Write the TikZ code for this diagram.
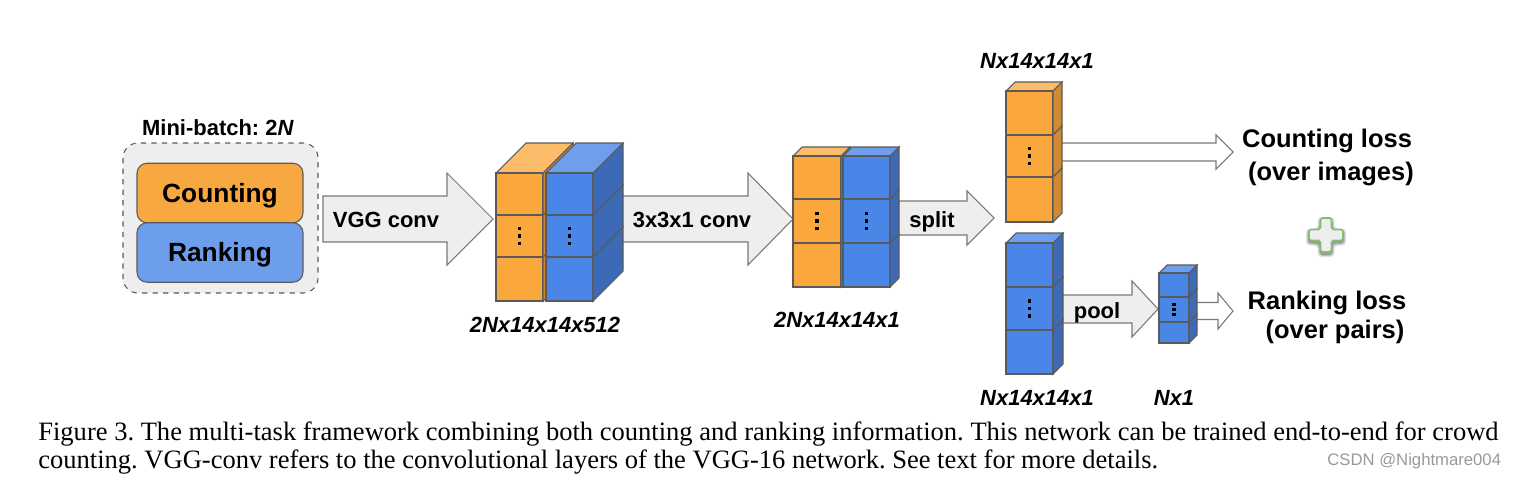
\documentclass[tikz,border=0pt]{standalone}
\usepackage{fontspec}
\setmainfont{Liberation Serif}
\newfontfamily\labelfont{Liberation Sans}
\usetikzlibrary{calc}
\definecolor{orfront}{RGB}{250,168,62}
\definecolor{ortop}{RGB}{252,188,106}
\definecolor{orside}{RGB}{208,138,54}
\definecolor{blfront}{RGB}{74,134,232}
\definecolor{bltop}{RGB}{110,158,236}
\definecolor{blside}{RGB}{60,106,182}
\definecolor{cntfill}{RGB}{248,168,64}
\definecolor{rnkfill}{RGB}{109,158,235}
\definecolor{edgegray}{RGB}{90,90,90}
\definecolor{arrowfill}{RGB}{238,238,238}
\definecolor{arrowgray}{RGB}{120,120,120}
\definecolor{plusgreen}{RGB}{130,190,110}

% feature column: x, top y, width, three cell bottoms, depth, colour, dot gap
\newcommand{\featcol}[9]{%
  \draw[edge, fill=#8top] (#1,#2) -- ++(#7,-#7) -- ++(#3,0) -- ++(-#7,#7) -- cycle;
  \foreach \ya/\yb in {#2/#4, #4/#5, #5/#6} {
    \draw[edge, fill=#8front] (#1,\ya) rectangle (#1+#3,\yb);
    \draw[edge, fill=#8side] (#1+#3,\ya) -- ++(#7,-#7) -- (#1+#3+#7,\yb-#7) -- (#1+#3,\yb) -- cycle;
  }
  \pgfmathsetmacro\dotx{#1+#3/2}
  \pgfmathsetmacro\doty{(#4+#5)/2}
  \foreach \k in {-1,0,1}
    \fill (\dotx-1.8,\doty+\k*#9-1.8) rectangle ++(3.6,3.6);
}
% block arrow: start x, head base x, tip x, centre y, shaft half, head half
\newcommand{\blockarrow}[7][garrow]{%
  \draw[#1] (#2,#5-#6) -- (#3,#5-#6) -- (#3,#5-#7) -- (#4,#5) -- (#3,#5+#7) -- (#3,#5+#6) -- (#2,#5+#6) -- cycle;
}

\begin{document}
\frenchspacing
\begin{tikzpicture}[x=0.02cm, y=-0.02cm,
  edge/.style={draw=edgegray, line width=0.6pt},
  garrow/.style={draw=arrowgray, fill=arrowfill, line width=0.6pt},
  warrow/.style={draw=arrowgray, fill=white, line width=0.6pt},
  inbox/.style={draw=edgegray, line width=0.6pt, rounded corners=0.2cm, minimum width=3.32cm, minimum height=1.19cm, text height=10.8pt, text depth=0pt, font=\labelfont\bfseries\fontsize{15}{17}\selectfont},
  armtxt/.style={font=\labelfont\bfseries\fontsize{12.5}{15}\selectfont, anchor=base, inner sep=0pt},
  dimtxt/.style={font=\labelfont\bfseries\itshape\fontsize{12.5}{15}\selectfont, anchor=base, inner sep=0pt},
  losstxt/.style={font=\labelfont\bfseries\fontsize{14.5}{17}\selectfont, anchor=base, inner sep=0pt},
  captxt/.style={font=\fontsize{15.1}{17}\selectfont, anchor=base west, inner sep=0pt}]
  \useasboundingbox (0,0) rectangle (1520,487);

  % mini-batch
  \node[armtxt] (minibatch) at (218,135) {Mini-batch: 2\textit{N}};
  \draw[dashed, draw=edgegray, fill=arrowfill, line width=0.6pt, rounded corners=0.3cm] (123,143) rectangle (318,293);
  \node[inbox, fill=cntfill] (countbox) at (220,193) {Counting};
  \node[inbox, fill=rnkfill] (rankbox) at (220,252.5) {Ranking};

  % block arrows
  \blockarrow{323}{447}{493}{219}{23}{46}
  \blockarrow{600}{748}{793}{219}{23}{46}
  \blockarrow{885}{967}{994}{218}{17}{27}
  \blockarrow[warrow]{1055}{1216}{1233}{152}{9}{17}
  \blockarrow{1055}{1132}{1158}{309}{14}{28}
  \blockarrow[warrow]{1190}{1218}{1233}{311}{8.5}{18}

  \node[armtxt] (vgglbl) at (386,227) {VGG conv};
  \node[armtxt] (convlbl) at (692,227) {3x3x1 conv};
  \node[armtxt] (splitlbl) at (932,227) {split};
  \node[armtxt] (poollbl) at (1097,318) {pool};

  % feature maps
  \featcol{496}{173}{47}{215}{257}{301}{30}{or}{7.5}
  \featcol{546}{173}{47}{215}{257}{301}{30}{bl}{7.5}
  \featcol{793}{156}{48}{199}{243}{287}{9}{or}{7.5}
  \featcol{843}{156}{47}{199}{243}{287}{9}{bl}{7.5}
  \featcol{1006}{91}{47}{135}{177}{222}{9}{or}{7.5}
  \featcol{1006}{243}{47}{287}{330}{374}{10}{bl}{7.5}
  \featcol{1159}{273}{30}{297}{322}{343}{8}{bl}{5}

  \node[dimtxt] (dimvgg) at (545,332) {2Nx14x14x512};
  \node[dimtxt] (dimconv) at (837,327) {2Nx14x14x1};
  \node[dimtxt] (dimcnt) at (1037,68) {Nx14x14x1};
  \node[dimtxt] (dimrnk) at (1037,405) {Nx14x14x1};
  \node[dimtxt] (dimpool) at (1174,405) {Nx1};

  % losses
  \node[losstxt] (cntloss) at (1327,147) {Counting loss};
  \node[losstxt] (cntsub) at (1331,180) {(over images)};
  \node[losstxt] (rnkloss) at (1327,309) {Ranking loss};
  \node[losstxt] (rnksub) at (1335,338) {(over pairs)};

  % plus
  \begin{scope}[shift={(1326,235)}]
    \foreach \s/\o in {3/0.10, 2/0.15, 1/0.2}
      \fill[black, opacity=\o, rounded corners=2pt] (-5.5-\s,-15-\s) -- (5.5+\s,-15-\s) -- (5.5+\s,-3.5-\s) -- (17+\s,-3.5-\s) -- (17+\s,7.5+\s) -- (5.5+\s,7.5+\s) -- (5.5+\s,19+\s) -- (-5.5-\s,19+\s) -- (-5.5-\s,7.5+\s) -- (-17-\s,7.5+\s) -- (-17-\s,-3.5-\s) -- (-5.5-\s,-3.5-\s) -- cycle;
    \draw[draw=plusgreen, fill=arrowfill, line width=0.9pt, rounded corners=1pt] (-5.5,-17) -- (5.5,-17) -- (5.5,-5.5) -- (17,-5.5) -- (17,5.5) -- (5.5,5.5) -- (5.5,17) -- (-5.5,17) -- (-5.5,5.5) -- (-17,5.5) -- (-17,-5.5) -- (-5.5,-5.5) -- cycle;
  \end{scope}

  % caption
  \node[captxt] (cap1) at (38,440) {Figure 3. The multi-task framework combining both counting and ranking information. This network can be trained end-to-end for crowd};
  \node[captxt] (cap2) at (38,468) {counting. VGG-conv refers to the convolutional layers of the VGG-16 network. See text for more details.};
  \node[font=\labelfont\fontsize{9.5}{11}\selectfont, text=gray!80, anchor=base west, inner sep=0pt] (mark) at (1327,465) {CSDN @Nightmare004};
\end{tikzpicture}
\end{document}
